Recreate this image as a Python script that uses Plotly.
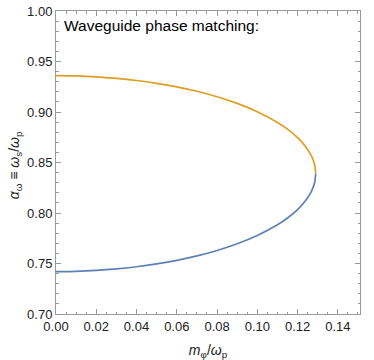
import plotly.graph_objects as go

# values (m_phi/omega_p vs alpha_omega)
m_phi = [0.0, 0.01, 0.02, 0.03, 0.04, 0.05, 0.06, 0.07, 0.08, 0.09, 0.10,
         0.11, 0.115, 0.12, 0.124, 0.127, 0.1285, 0.129]
alpha_upper = [0.9360, 0.9357, 0.9348, 0.9333, 0.9312, 0.9284, 0.9249, 0.9205,
               0.9151, 0.9085, 0.9003, 0.8897, 0.8830, 0.8746, 0.8657, 0.8560,
               0.8475, 0.8390]
alpha_lower = [0.7420, 0.7423, 0.7432, 0.7447, 0.7468, 0.7496, 0.7531, 0.7575,
               0.7629, 0.7695, 0.7777, 0.7883, 0.7950, 0.8034, 0.8123, 0.8220,
               0.8305, 0.8390]

x_ticks = [0.00, 0.02, 0.04, 0.06, 0.08, 0.10, 0.12, 0.14]
y_ticks = [0.70, 0.75, 0.80, 0.85, 0.90, 0.95, 1.00]

blue = "#5E81B5"
orange = "#E19C24"

fig = go.Figure()
fig.add_trace(go.Scatter(x=m_phi, y=alpha_lower, mode="lines",
                         line=dict(color=blue, width=1.7, shape="spline", smoothing=0.6),
                         showlegend=False))
fig.add_trace(go.Scatter(x=m_phi, y=alpha_upper, mode="lines",
                         line=dict(color=orange, width=1.7, shape="spline", smoothing=0.6),
                         showlegend=False))

fig.add_annotation(x=0, y=1, xref="paper", yref="paper", xanchor="left", yanchor="top",
                   xshift=6, yshift=-4, showarrow=False,
                   text="Waveguide phase matching:",
                   font=dict(size=15.5, color="black"))

# y title placed by hand so it sits where the reference has it
fig.add_annotation(x=-0.172, y=0.49, xref="paper", yref="paper", showarrow=False,
                   textangle=-90,
                   text="<i>α</i><sub>ω</sub> ≡ <i>ω</i><sub>s</sub>/<i>ω</i><sub>p</sub>",
                   font=dict(size=14, color="#222222"))

axis_common = dict(
    showgrid=False, zeroline=False, showline=True, linecolor="#999999", linewidth=1,
    mirror="allticks", ticks="inside", ticklen=5, tickcolor="#999999", automargin=False,
    tickfont=dict(size=13, color="#222222", family="Liberation Sans, Arial"),
)

fig.update_xaxes(range=[0, 0.151], tickvals=x_ticks,
                 ticktext=[f"{v:.2f}" for v in x_ticks],
                 minor=dict(dtick=0.005, tick0=0, ticks="inside", ticklen=2.5, tickcolor="#999999"),
                 title=dict(text="<i>m</i><sub>φ</sub>/<i>ω</i><sub>p</sub>",
                            font=dict(size=14, color="#222222")),
                 **axis_common)
fig.update_yaxes(range=[0.70, 1.00], tickvals=y_ticks,
                 ticktext=[f"{v:.2f}" for v in y_ticks],
                 minor=dict(dtick=0.01, tick0=0.7, ticks="inside", ticklen=2.5, tickcolor="#999999"),
                 **axis_common)

fig.update_layout(width=374, height=360, plot_bgcolor="white", paper_bgcolor="white",
                  margin=dict(l=56, r=14, t=11, b=46),
                  font=dict(family="Liberation Sans, Arial"))

# drop the page's default body margin so the figure sits at the window corner
fig.write_html("out.html", config={"displayModeBar": False},
               post_script="document.body.style.margin='0';")
